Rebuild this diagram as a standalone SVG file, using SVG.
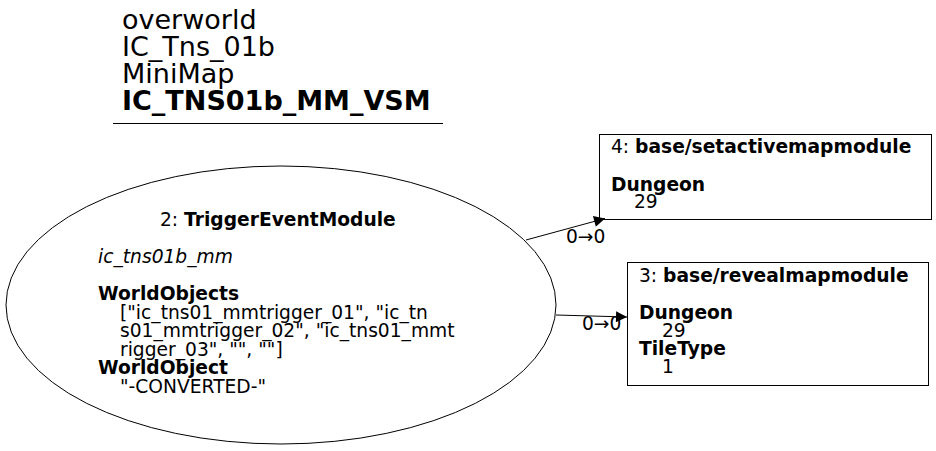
<svg xmlns="http://www.w3.org/2000/svg" width="936" height="451" viewBox="0 0 936 451">
<style>
text{font-family:"DejaVu Sans",sans-serif;fill:#000}
.t{font-size:27px}
.n{font-size:18.67px}
.b{font-weight:bold}
.i{font-style:italic}
.box{fill:#fff;stroke:#000;stroke-width:1}
.e{fill:none;stroke:#000;stroke-width:1}
</style>
<defs>
<marker id="ah" viewBox="0 0 10 10" refX="10" refY="5" markerWidth="14" markerHeight="11" markerUnits="userSpaceOnUse" orient="auto"><path d="M0,0L10,5L0,10z" fill="#000"/></marker>
</defs>
<rect width="936" height="451" fill="#fff"/>
<g id="title">
<text class="t" x="122" y="29">overworld</text>
<text class="t" x="122" y="56">IC_Tns_01b</text>
<text class="t" x="122" y="83">MiniMap</text>
<text class="t b" x="122" y="110">IC_TNS01b_MM_VSM</text>
<line x1="113" y1="123.5" x2="443" y2="123.5" stroke="#000"/>
</g>
<g id="node2">
<ellipse cx="281" cy="305" rx="275" ry="139" class="box"/>
<text class="n" x="160" y="226">2: <tspan class="b">TriggerEventModule</tspan></text>
<text class="n i" x="98" y="263">ic_tns01b_mm</text>
<text class="n b" x="98" y="300">WorldObjects</text>
<text class="n" x="120" y="318.5">["ic_tns01_mmtrigger_01", "ic_tn</text>
<text class="n" x="120" y="337">s01_mmtrigger_02", "ic_tns01_mmt</text>
<text class="n" x="120" y="355.5">rigger_03", "", ""]</text>
<text class="n b" x="98" y="374">WorldObject</text>
<text class="n" x="120" y="392.5">"-CONVERTED-"</text>
</g>
<g id="node4">
<rect x="599.5" y="134.5" width="332" height="85" class="box"/>
<text class="n" x="611" y="153">4: <tspan class="b">base/setactivemapmodule</tspan></text>
<text class="n b" x="611" y="191">Dungeon</text>
<text class="n" x="634" y="208">29</text>
</g>
<g id="node3">
<rect x="627.5" y="262.5" width="301" height="123" class="box"/>
<text class="n" x="639" y="282">3: <tspan class="b">base/revealmapmodule</tspan></text>
<text class="n b" x="639" y="319">Dungeon</text>
<text class="n" x="662" y="337">29</text>
<text class="n b" x="639" y="355">TileType</text>
<text class="n" x="662" y="373">1</text>
</g>
<g id="edges">
<path class="e" d="M526,240 L605,218.5" marker-end="url(#ah)"/>
<text class="n" x="566" y="243">0→0</text>
<path class="e" d="M556,315 L627,317" marker-end="url(#ah)"/>
<text class="n" x="582" y="330">0→0</text>
</g>
</svg>
